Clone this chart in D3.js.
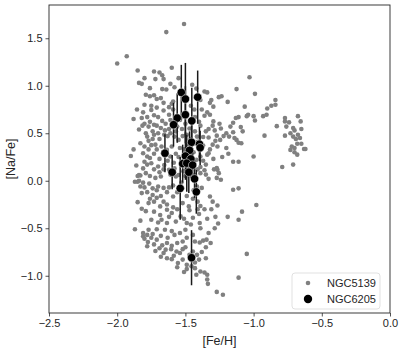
<!DOCTYPE html>
<html>
<head>
<meta charset="utf-8">
<script src="https://cdn.jsdelivr.net/npm/d3@7"></script>
<style>
  body { margin: 0; background: #fff; }
  text { font-family: "Liberation Sans", Arial, sans-serif; fill: #262626; }
</style>
</head>
<body>
<div id="chart-area"></div>
<script>
// NGC5139 stars: [Fe/H], [Na/Fe]
var ngc5139 = [
  [-1.51,1.65],[-1.64,1.565],[-1.93,1.31],[-2.0,1.235],
  [-1.85,1.16],[-1.73,1.15],[-1.69,1.14],[-1.60,1.19],[-1.67,1.11],
  [-1.72,1.07],[-1.66,1.07],[-1.80,1.08],[-1.84,1.03],[-1.82,1.02],[-1.55,1.08],[-1.03,1.09],[-1.61,1.02],[-1.45,1.01],[-1.42,0.97],
  [-1.58,0.985],[-1.64,0.96],[-1.67,0.965],[-1.125,0.965],[-0.99,0.915],[-1.36,0.94],[-1.34,0.93],[-1.76,0.975],[-1.79,0.905],[-1.73,0.90],
  [-1.76,0.89],[-1.71,0.86],[-1.68,0.87],[-1.80,0.80],[-1.75,0.79],[-1.66,0.82],[-1.59,0.835],[-1.60,0.81],[-1.49,0.845],[-1.39,0.85],[-1.31,0.85],[-1.255,0.88],[-1.235,0.89],[-1.19,0.83],[-0.84,0.85],[-0.84,0.80],
  [-1.855,0.75],[-1.81,0.72],[-1.75,0.745],[-1.71,0.77],[-1.66,0.74],[-1.62,0.775],[-1.59,0.75],[-1.46,0.79],[-1.435,0.75],[-1.38,0.75],[-1.34,0.72],[-1.32,0.82],[-1.295,0.78],[-1.065,0.78],[-0.90,0.76],[-0.87,0.79],
  [-1.88,0.65],[-1.82,0.66],[-1.78,0.67],[-1.73,0.69],[-1.70,0.67],[-1.62,0.695],[-1.61,0.64],[-1.52,0.68],[-1.43,0.67],[-1.36,0.685],[-1.32,0.695],[-1.295,0.625],[-1.25,0.60],[-1.11,0.67],[-1.05,0.68],[-1.04,0.695],[-1.0,0.68],[-0.99,0.635],[-0.93,0.68],[-0.905,0.695],[-0.77,0.66],[-0.675,0.68],[-0.77,0.625],[-0.74,0.615],[-0.655,0.625],[-1.13,0.66],
  [-1.84,0.54],[-1.80,0.60],[-1.77,0.57],[-1.73,0.59],[-1.68,0.555],[-1.65,0.53],[-1.62,0.545],[-1.56,0.57],[-1.525,0.545],[-1.39,0.58],[-1.33,0.545],[-1.285,0.53],[-1.24,0.55],[-1.17,0.57],[-1.15,0.61],[-1.094,0.565],[-1.08,0.52],[-0.83,0.575],[-0.76,0.57],[-0.71,0.555],[-0.70,0.53],[-0.65,0.545],
  [-1.79,0.50],[-1.78,0.465],[-1.73,0.485],[-1.69,0.44],[-1.655,0.485],[-1.61,0.50],[-1.58,0.465],[-1.55,0.43],[-1.49,0.485],[-1.415,0.465],[-1.37,0.46],[-1.33,0.455],[-1.27,0.475],[-1.245,0.43],[-1.20,0.50],[-1.18,0.465],[-1.15,0.51],[-0.92,0.475],[-0.77,0.475],[-0.73,0.50],[-0.71,0.465],[-0.675,0.485],[-0.66,0.45],[-0.69,0.44],[-1.125,0.43],[-1.11,0.40],
  [-1.83,0.395],[-1.80,0.36],[-1.75,0.375],[-1.71,0.33],[-1.675,0.36],[-1.636,0.325],[-1.60,0.36],[-1.54,0.345],[-1.37,0.37],[-1.32,0.33],[-1.265,0.36],[-1.20,0.345],[-1.09,0.395],[-0.72,0.36],[-0.70,0.345],[-0.68,0.39],[-0.65,0.39],[-0.63,0.335],[-0.73,0.325],[-1.88,0.33],
  [-1.90,0.26],[-1.78,0.255],[-1.73,0.285],[-1.69,0.23],[-1.61,0.255],[-1.57,0.285],[-1.39,0.255],[-1.34,0.275],[-1.295,0.23],[-1.185,0.285],[-1.0,0.255],[-0.70,0.30],[-0.62,0.335],[-0.68,0.275],
  [-1.78,0.17],[-1.75,0.185],[-1.70,0.15],[-1.655,0.165],[-1.62,0.115],[-1.39,0.145],[-1.35,0.17],[-1.27,0.135],[-1.15,0.20],[-1.11,0.20],[-0.79,0.145],[-0.71,0.17],
  [-1.84,0.06],[-1.79,0.08],[-1.76,0.05],[-1.72,0.03],[-1.68,0.045],[-1.61,0.065],[-1.57,0.045],[-1.39,0.08],[-1.35,0.065],[-1.265,0.115],[-1.27,0.03],[-1.24,0.01],[-1.255,0.08],[-1.85,0.05],[-1.83,0.055],
  [-1.87,-0.01],[-1.85,-0.01],[-1.84,0.0],[-1.81,-0.02],[-1.765,-0.03],[-1.74,-0.08],[-1.70,-0.06],[-1.66,-0.075],[-1.59,-0.05],[-1.415,-0.06],[-1.38,-0.075],[-1.15,-0.095],[-1.11,-0.08],[-1.83,-0.06],
  [-1.82,-0.13],[-1.78,-0.12],[-1.74,-0.15],[-1.71,-0.18],[-1.635,-0.12],[-1.59,-0.165],[-1.445,-0.19],[-1.32,-0.165],
  [-1.85,-0.225],[-1.82,-0.295],[-1.77,-0.235],[-1.73,-0.22],[-1.685,-0.27],[-1.635,-0.25],[-1.59,-0.28],[-1.52,-0.235],[-1.475,-0.27],[-1.39,-0.265],[-1.30,-0.22],[-1.265,-0.26],[-0.98,-0.255],
  [-1.73,-0.325],[-1.685,-0.36],[-1.635,-0.305],[-1.60,-0.34],[-1.535,-0.375],[-1.47,-0.31],[-1.445,-0.39],[-1.40,-0.35],[-1.085,-0.325],
  [-1.75,-0.41],[-1.675,-0.41],[-1.635,-0.445],[-1.57,-0.43],[-1.49,-0.445],[-1.395,-0.445],[-1.28,-0.38],[-1.11,-0.41],[-1.19,-0.38],
  [-1.87,-0.51],[-1.81,-0.55],[-1.78,-0.57],[-1.81,-0.585],[-1.77,-0.515],[-1.71,-0.51],[-1.65,-0.515],[-1.60,-0.53],[-1.54,-0.55],[-1.50,-0.515],[-1.445,-0.57],[-1.39,-0.50],[-1.285,-0.50],
  [-1.80,-0.61],[-1.775,-0.645],[-1.75,-0.60],[-1.71,-0.62],[-1.635,-0.655],[-1.60,-0.685],[-1.56,-0.655],[-1.52,-0.64],[-1.37,-0.63],[-1.345,-0.62],[-1.315,-0.655],[-1.395,-0.65],
  [-1.69,-0.71],[-1.645,-0.725],[-1.605,-0.72],[-1.565,-0.745],[-1.52,-0.72],[-1.445,-0.745],[-1.415,-0.78],[-1.05,-0.77],
  [-1.635,-0.815],[-1.60,-0.825],[-1.555,-0.865],[-1.52,-0.83],[-1.49,-0.885],[-1.40,-0.83],[-1.35,-0.815],[-1.68,-0.80],
  [-1.49,-0.93],[-1.455,-0.90],[-1.39,-0.955],[-1.36,-0.965],[-1.42,-0.99],[-1.34,-0.99],
  [-1.34,-1.04],[-1.335,-1.085],[-1.11,-1.02],[-1.27,-1.17],[-1.225,-1.20],
  // denser core
  [-1.76,0.62],[-1.71,0.58],[-1.67,0.63],[-1.645,0.6],[-1.585,0.61],[-1.54,0.64],[-1.50,0.6],[-1.47,0.55],[-1.43,0.52],[-1.40,0.62],
  [-1.815,0.58],[-1.74,0.52],[-1.70,0.50],[-1.63,0.47],[-1.57,0.52],[-1.52,0.47],[-1.46,0.44],[-1.41,0.41],[-1.35,0.52],[-1.30,0.58],
  [-1.28,0.42],[-1.22,0.47],[-1.14,0.45],
  [-1.77,0.33],[-1.72,0.38],[-1.66,0.30],[-1.63,0.21],[-1.585,0.19],[-1.55,0.25],[-1.51,0.33],[-1.48,0.39],[-1.44,0.30],[-1.42,0.22],
  [-1.41,0.12],[-1.37,0.21],[-1.33,0.29],[-1.30,0.38],[-1.29,0.12],[-1.23,0.25],[-1.81,0.29],[-1.80,0.2],[-1.76,0.24],[-1.73,0.12],
  [-1.69,0.09],[-1.66,0.12],[-1.58,0.13],[-1.55,0.06],[-1.515,0.1],[-1.46,0.13],[-1.43,0.06],[-1.36,0.11],[-1.33,0.02],[-1.81,0.13],
  [-1.86,0.16],[-1.77,0.42],[-1.74,0.44],[-1.50,0.05],
  [-1.80,-0.07],[-1.76,-0.19],[-1.71,-0.1],[-1.68,-0.16],[-1.66,-0.22],[-1.62,-0.07],[-1.56,-0.12],[-1.53,-0.02],[-1.49,-0.16],[-1.44,-0.1],
  [-1.41,-0.22],[-1.36,-0.3],[-1.34,-0.4],[-1.79,-0.32],[-1.70,-0.44],[-1.62,-0.38],[-1.56,-0.3],[-1.51,-0.4],[-1.46,-0.46],[-1.41,-0.3],
  [-1.31,-0.3],[-1.26,-0.45],[-1.83,-0.42],
  [-1.74,-0.56],[-1.68,-0.58],[-1.63,-0.6],[-1.58,-0.57],[-1.49,-0.6],[-1.43,-0.64],[-1.33,-0.55],[-1.73,-0.67],[-1.67,-0.68],[-1.585,-0.79],
  [-1.54,-0.76],[-1.50,-0.7],[-1.47,-0.78],[-1.43,-0.86],[-1.38,-0.75],[-1.35,-0.7],[-1.56,-0.91],[-1.51,-0.96],[-1.43,-0.92],[-1.66,-0.76],
  [-1.72,-0.74],[-1.78,-0.69]
];

// NGC6205 stars with error on [Na/Fe]
var feH6205 = [-1.53,-1.50,-1.41,-1.50,-1.56,-1.453,-1.587,-1.455,-1.397,-1.392,-1.47,-1.65,-1.50,-1.46,-1.52,-1.49,-1.447,-1.597,-1.475,-1.433,-1.538,-1.42,-1.455];
var naFe6205 = [0.93,0.86,0.88,0.695,0.66,0.63,0.59,0.405,0.385,0.347,0.32,0.29,0.26,0.23,0.18,0.185,0.165,0.09,0.09,0.02,-0.08,-0.117,-0.81];
var err6205 = [0.29,0.38,0.28,0.3,0.26,0.35,0.23,0.25,0.18,0.18,0.2,0.2,0.25,0.2,0.2,0.3,0.18,0.18,0.22,0.2,0.33,0.23,0.29];

var xTicks = [-2.5, -2.0, -1.5, -1.0, -0.5, 0.0];
var yTicks = [-1.0, -0.5, 0.0, 0.5, 1.0, 1.5];
var legendNames = ["NGC5139", "NGC6205"];

var margin = { left: 49, right: 17, top: 5, bottom: 44 };
var W = 407, H = 357;
var width = W - margin.left - margin.right,
    height = H - margin.top - margin.bottom;

var svg = d3.select("#chart-area").append("svg")
    .attr("width", W).attr("height", H);
var g = svg.append("g")
    .attr("transform", "translate(" + margin.left + "," + margin.top + ")");

var x = d3.scaleLinear().domain([-2.5, 0]).range([0, width]);
var y = d3.scaleLinear().domain([-1.392, 1.85]).range([height, 0]);

var fmt = function(d){ return d3.format(".1f")(d).replace("-", "\u2212"); };

// gray cloud
g.selectAll("circle.omega").data(ngc5139).enter()
  .append("circle")
    .attr("class", "omega")
    .attr("cx", function(d){ return x(d[0]); })
    .attr("cy", function(d){ return y(d[1]); })
    .attr("r", 2.3)
    .attr("fill", "#808080");

// error bars
var m13 = feH6205.map(function(f, i){ return { fe: f, na: naFe6205[i], e: err6205[i] }; });
g.selectAll("line.err").data(m13).enter()
  .append("line")
    .attr("class", "err")
    .attr("x1", function(d){ return x(d.fe); })
    .attr("x2", function(d){ return x(d.fe); })
    .attr("y1", function(d){ return y(d.na + d.e); })
    .attr("y2", function(d){ return y(d.na - d.e); })
    .attr("stroke", "#1a1a1a")
    .attr("stroke-width", 1.5);

g.selectAll("circle.m13").data(m13).enter()
  .append("circle")
    .attr("class", "m13")
    .attr("cx", function(d){ return x(d.fe); })
    .attr("cy", function(d){ return y(d.na); })
    .attr("r", 4.2)
    .attr("fill", "#000")
    .attr("stroke", "#fff")
    .attr("stroke-width", 0.5);

// axes
var xAxis = g.append("g")
    .attr("transform", "translate(0," + height + ")")
    .call(d3.axisBottom(x).tickValues(xTicks).tickFormat(fmt).tickSize(3.5).tickPadding(3));
var yAxis = g.append("g")
    .call(d3.axisLeft(y).tickValues(yTicks).tickFormat(fmt).tickSize(3.5).tickPadding(3));
[xAxis, yAxis].forEach(function(a){
  a.select(".domain").remove();
  a.selectAll("line").attr("stroke", "#262626").attr("stroke-width", 0.8);
  a.selectAll("text").attr("font-size", "11px").style("fill", "#262626")
    .attr("font-family", "Liberation Sans, Arial, sans-serif");
});

// frame
g.append("rect")
    .attr("width", width).attr("height", height)
    .attr("fill", "none").attr("stroke", "#262626").attr("stroke-width", 0.9);

// labels
g.append("text")
    .attr("x", width / 2).attr("y", height + 32)
    .attr("text-anchor", "middle").attr("font-size", "12.5px")
    .text("[Fe/H]");
g.append("text")
    .attr("transform", "rotate(-90)")
    .attr("x", -height / 2).attr("y", -34)
    .attr("text-anchor", "middle").attr("font-size", "12.5px")
    .text("[Na/Fe]");

// legend
var lg = g.append("g").attr("transform", "translate(" + (width - 98) + "," + (height - 40) + ")");
lg.append("rect")
    .attr("width", 88).attr("height", 36).attr("rx", 3)
    .attr("fill", "#fff").attr("fill-opacity", 0.8)
    .attr("stroke", "#d9d9d9").attr("stroke-width", 0.8);
lg.append("circle").attr("cx", 16).attr("cy", 10).attr("r", 2.3).attr("fill", "#808080");
lg.append("circle").attr("cx", 16).attr("cy", 26).attr("r", 4.2).attr("fill", "#000");
lg.selectAll("text.leg").data(legendNames).enter()
  .append("text")
    .attr("class", "leg")
    .attr("x", 35)
    .attr("y", function(d, i){ return 14 + i * 16; })
    .attr("font-size", "11px")
    .text(function(d){ return d; });
</script>
</body>
</html>
